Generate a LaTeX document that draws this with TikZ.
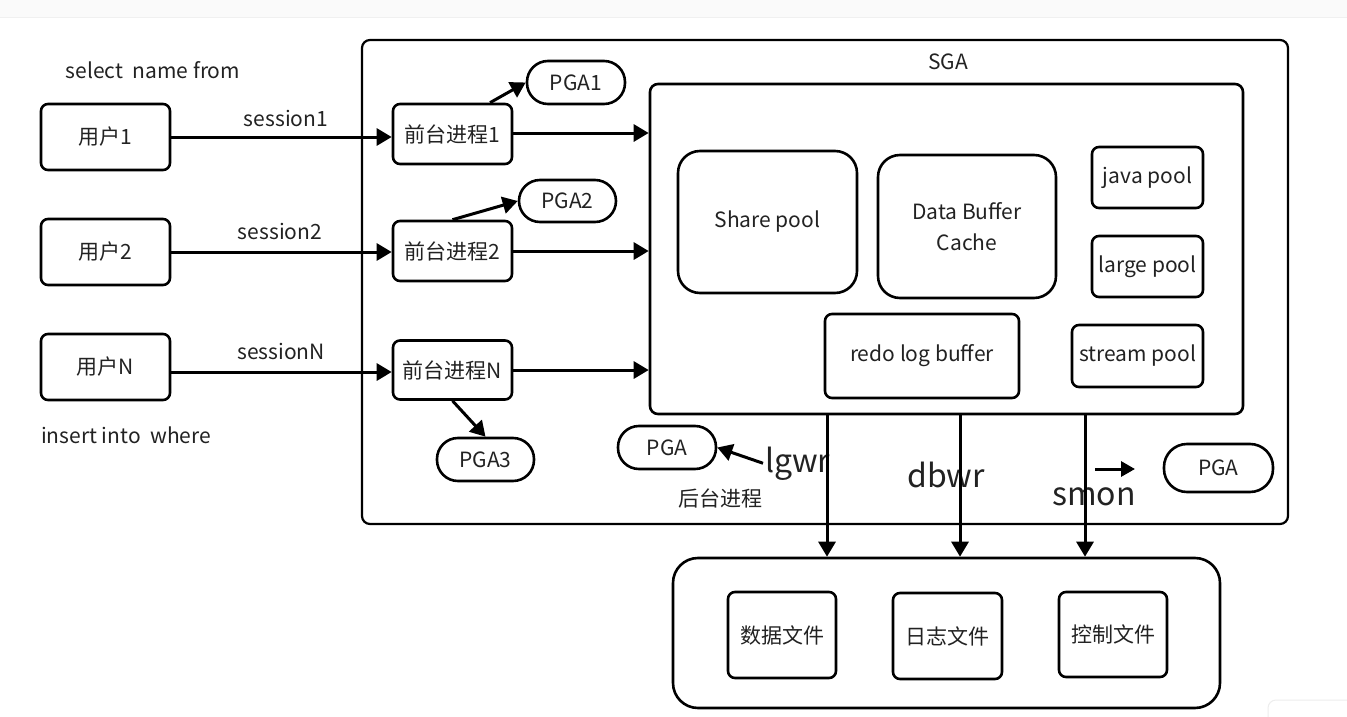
\documentclass[tikz,border=0pt]{standalone}
\usepackage{fontspec}
\setmainfont{Noto Sans CJK SC}
\usetikzlibrary{arrows.meta}
\definecolor{txt}{HTML}{222222}
\begin{document}
\begin{tikzpicture}[x=1pt,y=-1pt,
  box/.style={draw=black,line width=2.6pt,rounded corners=7pt,inner sep=0pt,text=txt,font=\fontsize{21}{25}\selectfont,align=center},
  bigbox/.style={draw=black,line width=2.6pt,rounded corners=22pt,inner sep=0pt,text=txt,font=\fontsize{21}{31}\selectfont,align=center},
  pga/.style={draw=black,line width=2.6pt,rounded corners=21pt,inner sep=0pt,text=txt,font=\fontsize{21}{25}\selectfont},
  lbl/.style={inner sep=0pt,text=txt,font=\fontsize{21}{25}\selectfont},
  proc/.style={inner sep=0pt,text=txt,font=\fontsize{32}{36}\selectfont},
  arr/.style={draw=black,line width=3pt,-{Triangle[length=15pt,width=17pt]}},
  sarr/.style={draw=black,line width=3pt,-{Triangle[length=14pt,width=15pt]}}
]
\useasboundingbox (0,0) rectangle (1347,717);
\fill[white] (0,0) rectangle (1347,717);
\fill[black!2] (0,0) rectangle (1347,18);
\draw[black!6,line width=1pt] (0,18) -- (1347,18);
\draw[black!7,line width=1pt,rounded corners=8pt] (1268,717) |- (1347,700);

% outer SGA container
\node[draw=black,line width=2.2pt,rounded corners=8pt,minimum width=926pt,minimum height=484pt,inner sep=0pt] (sga) at (825,282) {};
\node[lbl] (sgal) at (948,62) {SGA};
% inner SGA box
\node[draw=black,line width=2.6pt,rounded corners=8pt,minimum width=593pt,minimum height=330pt,inner sep=0pt] (inner) at (946.5,249) {};

% SGA components
\node[bigbox,minimum width=179pt,minimum height=142pt] (share) at (767.5,222) {Share pool};
\node[bigbox,minimum width=178pt,minimum height=143pt] (dbc) at (967,226.5) {Data Buffer\\Cache};
\node[box,minimum width=111pt,minimum height=61pt] (java) at (1147.5,177.5) {java pool};
\node[box,minimum width=111pt,minimum height=61pt] (large) at (1147.5,266.5) {large pool};
\node[box,minimum width=131pt,minimum height=62pt] (stream) at (1137.5,356) {stream pool};
\node[box,minimum width=194pt,minimum height=84pt] (redo) at (922,356) {redo log buffer};

% users
\node[box,minimum width=129pt,minimum height=66pt] (u1) at (105.5,137) {用户1};
\node[box,minimum width=129pt,minimum height=66pt] (u2) at (105.5,252) {用户2};
\node[box,minimum width=129pt,minimum height=66pt] (un) at (105.5,367) {用户N};
\node[lbl] (sel) at (153,70) {select\ \ name from};
\node[lbl] (ins) at (126,435) {insert into\ \ where};

% foreground processes
\node[box,minimum width=119pt,minimum height=60pt] (f1) at (452.5,134) {前台进程1};
\node[box,minimum width=119pt,minimum height=60pt] (f2) at (452.5,251) {前台进程2};
\node[box,minimum width=119pt,minimum height=59pt] (fn) at (452.5,370) {前台进程N};

% PGAs
\node[pga,minimum width=98pt,minimum height=43pt] (pga1) at (576,82.5) {PGA1};
\node[pga,minimum width=97pt,minimum height=42pt] (pga2) at (567.5,201) {PGA2};
\node[pga,minimum width=97pt,minimum height=43pt] (pga3) at (485.5,459.5) {PGA3};
\node[pga,minimum width=98pt,minimum height=43pt] (pgal) at (667,447.5) {PGA};
\node[pga,rounded corners=23pt,minimum width=109pt,minimum height=48pt] (pgar) at (1218.5,468) {PGA};

% background processes
\node[lbl] (bg) at (720,498) {后台进程};
\node[proc,anchor=base west] (lgwr) at (765,472) {lgwr};
\node[proc,anchor=base west] (dbwr) at (907,487) {dbwr};
\node[proc,anchor=base west] (smon) at (1052,505) {smon};

% files
\node[draw=black,line width=2.6pt,rounded corners=25pt,minimum width=547pt,minimum height=150pt,inner sep=0pt] (files) at (946.5,633) {};
\node[box,minimum width=108pt,minimum height=86pt] (df) at (782,635) {数据文件};
\node[box,minimum width=109pt,minimum height=86pt] (lf) at (947.5,636) {日志文件};
\node[box,minimum width=108pt,minimum height=85pt] (cf) at (1113,634.5) {控制文件};

% session labels
\node[lbl] (s1) at (286,118) {session1};
\node[lbl] (s2) at (280,231) {session2};
\node[lbl] (sn) at (281,351) {sessionN};

% sessions
\draw[arr] (u1.east) -- (u1.east -| f1.west);
\draw[arr] (u2.east) -- (u2.east -| f2.west);
\draw[arr] ([yshift=-5pt]un.east) -- ([yshift=-5pt]un.east -| fn.west);

% processes to SGA
\draw[arr] ([yshift=1pt]f1.east) -- ([yshift=1pt]f1.east -| inner.west);
\draw[arr] (f2.east) -- (f2.east -| inner.west);
\draw[arr] (fn.east) -- (fn.east -| inner.west);

% processes to PGAs
\draw[arr] ([xshift=37.5pt]f1.north) -- (pga1.west);
\draw[arr] (f2.north) -- (pga2.west);
\draw[arr] (fn.south) -- (pga3.north);
\draw[arr] ([xshift=-2pt]lgwr.west) -- (pgal.east);

\coordinate (sa) at (1095,469);
\coordinate (sb) at (1135,469);
\draw[sarr] (sa) -- (sb);

% writes to files
\coordinate (v1) at (827,414);
\coordinate (v2) at (960,414);
\coordinate (v3) at (1085,414);
\draw[arr] (v1) -- (v1 |- files.north);
\draw[arr] (v2) -- (v2 |- files.north);
\draw[arr] (v3) -- (v3 |- files.north);
\end{tikzpicture}
\end{document}
